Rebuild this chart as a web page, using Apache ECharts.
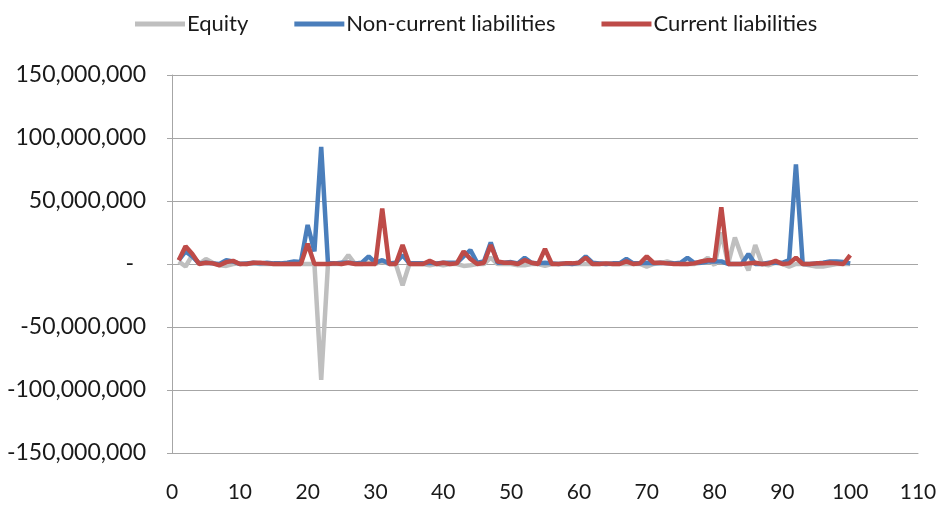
<!DOCTYPE html>
<html>
<head>
<meta charset="utf-8">
<script src="https://cdn.jsdelivr.net/npm/echarts@6/dist/echarts.min.js"></script>
<style>
  html, body { margin: 0; padding: 0; background: #ffffff; }
  #chart { width: 940px; height: 506px; }
</style>
</head>
<body>
<div id="chart"></div>
<script>
// Observation index 1..100
const periods = Array.from({ length: 100 }, (_, k) => k + 1);

const seriesNames = ['Equity', 'Non-current liabilities', 'Current liabilities'];

const equity = [
  2e6, -2e6, 7e6, 0, 4e6, 1e6, -1e6, -1.5e6, 0, 0.5e6,
  0, 0.5e6, 0, 0, 0, 0, 0, 0, 0, 0,
  0, -92e6, 0, 0, 0, 7e6, 0, 0, 1e6, 0,
  2e6, 0, 0, -17e6, 0, 0, 0, -1e6, 0, -1e6,
  0, 0, -1.5e6, -1e6, 0, 0, 5e6, 0, 0, 0,
  -1e6, -1e6, 0, 0, -1.5e6, 0, 0, 0, 0, 0,
  0, 0, 0, 0, 0, 0, 0, 0, 0, -2e6,
  0, 0.5e6, 2e6, 0.5e6, 0, 0, 0, 1e6, 5e6, -1e6,
  25e6, 0, 21e6, 6e6, -5e6, 15e6, 0, -1e6, 1e6, 0,
  -2e6, 0, 0, -1e6, -2e6, -2e6, -1e6, 0, 0, 0
];

const nonCurrent = [
  3e6, 10e6, 6e6, 0.5e6, 1e6, 0.5e6, 0, 3e6, 2e6, 0,
  0.5e6, 1e6, 0.5e6, 1e6, 0.5e6, 0.5e6, 1e6, 2e6, 1.5e6, 31e6,
  10e6, 93e6, 0.5e6, 0.5e6, 1e6, 1e6, 0.5e6, 1e6, 6e6, 1e6,
  3e6, 0.5e6, 1e6, 7e6, 0.5e6, 0.5e6, 0.5e6, 1e6, 0.5e6, 1e6,
  1e6, 1e6, 6e6, 11e6, 1e6, 2e6, 17e6, 1e6, 1e6, 1.5e6,
  0.5e6, 5e6, 1e6, 0.5e6, 1e6, 0.5e6, 0, 0.5e6, 0, 1e6,
  6e6, 1e6, 0.5e6, 0, 0.5e6, 0.5e6, 4e6, 0.5e6, 0.5e6, 1e6,
  0.5e6, 1e6, 0.5e6, 0.5e6, 1e6, 5e6, 1e6, 1e6, 2e6, 2e6,
  2e6, 0, 0, 0, 8e6, 0, 0, 1e6, 1e6, 1e6,
  3e6, 79e6, 0, 0, 0.5e6, 1e6, 2e6, 2e6, 1.5e6, 0.5e6
];

const current = [
  3e6, 14e6, 8e6, 0, 1e6, 0.5e6, -1e6, 1.5e6, 2.5e6, 0,
  0, 1e6, 1e6, 0.5e6, 0, 0, 0, 0, 0, 16e6,
  0, 0, 0, 0.5e6, 0, 1e6, 0, 0, 0, 0,
  44e6, 0, 0, 15e6, 0, 0, 0, 2.5e6, 0, 1e6,
  0, 0.5e6, 10e6, 4e6, 0, 1e6, 15e6, 2e6, 1e6, 1e6,
  0, 3e6, 1e6, 0, 12e6, 0, 0, 0.5e6, 0.5e6, 1e6,
  5e6, 0, 0, 0.5e6, 0, 0, 2e6, 0, 0.5e6, 6e6,
  1e6, 1e6, 0.5e6, 0, 0, 0, 0.5e6, 2e6, 3e6, 3e6,
  45e6, 0, 0, 0, 0.5e6, 1e6, 0, 0.5e6, 2.5e6, 0,
  0.5e6, 5e6, 0, 0, 0.5e6, 0.5e6, 1e6, 0.5e6, 0, 7e6
];

const colors = ['#BFBFBF', '#4A7EBB', '#BE4B48'];
const valueSets = [equity, nonCurrent, current];
const textFont = 'Lato, "Noto Sans", sans-serif';

const chart = echarts.init(document.getElementById('chart'), null, { renderer: 'canvas' });

chart.setOption({
  animation: false,
  backgroundColor: '#ffffff',
  color: colors,
  legend: {
    top: 8,
    left: 130,
    itemWidth: 50,
    itemHeight: 5,
    itemGap: 46,
    icon: 'rect',
    textStyle: { fontFamily: textFont, fontSize: 22, color: '#1a1a1a', padding: [0, 0, 0, -3] },
    data: seriesNames
  },
  grid: { left: 172, right: 22, top: 75, bottom: 53, containLabel: false },
  xAxis: {
    type: 'value',
    min: 0,
    max: 110,
    interval: 10,
    axisLine: { show: true, onZero: false, lineStyle: { color: '#A6A6A6', width: 1 } },
    axisTick: { show: false },
    splitLine: { show: false },
    axisLabel: { margin: 29, fontFamily: textFont, fontSize: 21, color: '#1a1a1a' }
  },
  yAxis: {
    type: 'value',
    min: -150000000,
    max: 150000000,
    interval: 50000000,
    axisLine: { show: true, onZero: false, lineStyle: { color: '#A6A6A6', width: 1 } },
    axisTick: { show: true, length: 5, lineStyle: { color: '#A6A6A6' } },
    splitLine: { show: true, lineStyle: { color: '#A6A6A6', width: 1 } },
    axisLabel: {
      margin: 26,
      fontFamily: textFont,
      fontSize: 23,
      color: '#1a1a1a',
      formatter: v => (v === 0 ? '{z|-}' : v.toLocaleString('en-US')),
      rich: { z: { fontFamily: textFont, fontSize: 23, color: '#1a1a1a', padding: [0, 12, 0, 0] } }
    }
  },
  series: seriesNames.map((name, s) => ({
    name,
    type: 'line',
    showSymbol: false,
    symbol: 'none',
    lineStyle: { width: 4.5, color: colors[s] },
    itemStyle: { color: colors[s] },
    data: periods.map((p, k) => [p, valueSets[s][k]])
  }))
});
</script>
</body>
</html>
